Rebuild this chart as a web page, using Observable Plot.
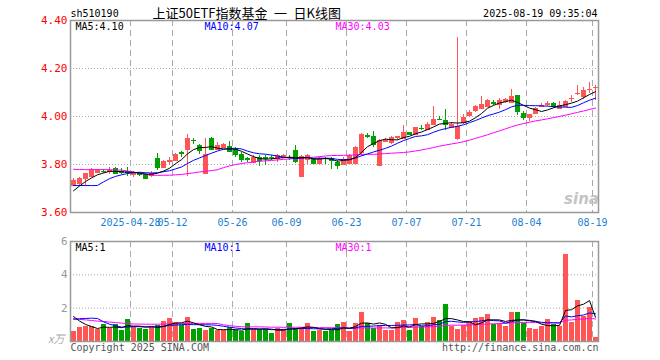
<!DOCTYPE html>
<html><head><meta charset="utf-8">
<script src="https://cdn.jsdelivr.net/npm/d3@7"></script>
<script src="https://cdn.jsdelivr.net/npm/@observablehq/plot@0.6"></script>
<style>
body{margin:0;background:#fff;}
#chart{width:660px;height:360px;position:relative;overflow:hidden;background:#fff}
#chart svg{display:block}
</style></head><body><div id="chart"></div>
<script>
// ---------- data ----------
const code = "sh510190";
const titleText = "上证50ETF指数基金\u2002一\u2002日K线图";
const stamp = "2025-08-19 09:35:04";

const dates = [
"04-14","04-15","04-16","04-17","04-18","04-21","04-22","04-23","04-24","04-25","04-28","04-29","04-30",
"05-06","05-07","05-08","05-09","05-12","05-13","05-14","05-15","05-16","05-19","05-20","05-21","05-22","05-23","05-26","05-27","05-28","05-29","05-30",
"06-03","06-04","06-05","06-06","06-09","06-10","06-11","06-12","06-13","06-16","06-17","06-18","06-19","06-20","06-23","06-24","06-25","06-26","06-27","06-30",
"07-01","07-02","07-03","07-04","07-07","07-08","07-09","07-10","07-11","07-14","07-15","07-16","07-17","07-18","07-21","07-22","07-23","07-24","07-25","07-28","07-29","07-30","07-31",
"08-01","08-04","08-05","08-06","08-07","08-08","08-11","08-12","08-13","08-14","08-15","08-18","08-19"];

const open = [
3.714,3.721,3.740,3.751,3.767,3.772,3.772,3.783,3.772,3.769,
3.757,3.764,3.757,3.754,3.825,3.788,3.813,3.815,3.849,3.861,
3.901,3.881,3.764,3.910,3.863,3.871,3.874,3.864,3.840,3.823,
3.810,3.829,3.829,3.830,3.825,3.829,3.830,3.857,3.750,3.822,
3.819,3.804,3.826,3.826,3.808,3.801,3.804,3.804,3.850,3.920,
3.918,3.797,3.896,3.890,3.912,3.910,3.932,3.926,3.952,3.947,
3.965,3.989,3.985,3.955,3.908,3.975,4.003,4.024,4.035,4.040,
4.059,4.049,4.062,4.058,4.086,4.013,3.996,4.013,4.042,4.051,
4.054,4.035,4.040,4.073,4.094,4.082,4.112,4.119];

const close = [
3.732,3.740,3.763,3.776,3.775,3.769,3.775,3.763,3.767,3.765,
3.767,3.757,3.743,3.764,3.788,3.811,3.815,3.840,3.846,3.910,
3.899,3.857,3.843,3.863,3.878,3.883,3.854,3.840,3.821,3.820,
3.829,3.815,3.826,3.828,3.836,3.836,3.828,3.812,3.832,3.839,
3.803,3.826,3.824,3.818,3.797,3.822,3.837,3.871,3.924,3.918,
3.885,3.899,3.902,3.912,3.915,3.933,3.926,3.954,3.949,3.966,
3.987,3.986,3.968,3.965,3.957,3.996,4.017,4.040,4.051,4.068,
4.056,4.065,4.069,4.082,4.021,3.996,4.007,4.035,4.045,4.054,
4.040,4.046,4.062,4.076,4.096,4.110,4.114,4.121];

const high = [
3.740,3.746,3.763,3.782,3.779,3.781,3.788,3.788,3.783,3.788,
3.771,3.767,3.763,3.769,3.847,3.815,3.829,3.846,3.853,3.926,
3.910,3.885,3.910,3.913,3.893,3.886,3.894,3.871,3.850,3.829,
3.836,3.836,3.836,3.839,3.843,3.843,3.839,3.878,3.836,3.843,
3.826,3.829,3.829,3.829,3.815,3.829,3.843,3.874,3.930,3.929,
3.939,3.906,3.908,3.918,3.918,3.964,3.932,3.956,3.964,3.974,
4.040,3.999,4.029,3.975,4.329,4.010,4.024,4.044,4.082,4.072,
4.068,4.076,4.075,4.114,4.086,4.021,4.010,4.038,4.054,4.061,
4.058,4.063,4.065,4.086,4.128,4.121,4.142,4.128];

const low = [
3.707,3.710,3.711,3.746,3.763,3.763,3.760,3.757,3.757,3.751,
3.746,3.751,3.738,3.746,3.774,3.785,3.797,3.812,3.829,3.750,
3.882,3.843,3.757,3.860,3.857,3.867,3.850,3.829,3.807,3.808,
3.806,3.792,3.797,3.815,3.808,3.826,3.815,3.804,3.746,3.801,
3.799,3.801,3.799,3.781,3.781,3.799,3.801,3.801,3.835,3.910,
3.871,3.796,3.890,3.885,3.899,3.906,3.919,3.923,3.940,3.943,
3.961,3.982,3.940,3.950,3.901,3.968,3.996,4.017,4.031,4.038,
4.044,4.031,4.054,4.054,4.003,3.982,3.979,4.007,4.038,4.040,
4.035,4.031,4.037,4.060,4.086,4.072,4.096,4.068];

// volume in 万手
const volume = [
0.60,0.84,0.88,0.88,0.70,1.00,0.78,1.00,0.66,1.30,
0.88,0.78,0.72,0.84,0.96,1.20,1.36,1.14,0.96,1.42,
0.72,0.78,0.66,0.78,0.66,0.66,0.82,0.66,0.60,1.06,
0.72,0.72,0.72,0.48,0.76,0.72,1.06,0.78,0.76,1.06,
0.60,0.64,0.60,0.68,1.00,1.12,0.60,1.06,1.72,1.06,
0.78,0.94,0.66,0.66,1.14,1.24,0.66,1.36,0.88,1.12,
1.42,1.24,2.20,0.88,0.72,0.96,1.12,1.36,1.42,1.60,
1.02,1.06,0.92,1.72,1.72,1.06,0.80,0.74,0.88,1.30,
1.00,0.92,5.20,1.12,2.44,1.50,2.02,0.22];

// sessions before the visible window (feed the moving averages only)
const priorClose = [3.77,3.78,3.76,3.78,3.77,3.79,3.80,3.78,3.88,3.90,3.89,3.88,3.87,3.82,3.80,3.81,3.79,3.80,3.81,3.80,3.74,3.76,3.78,3.77,3.62,3.64,3.67,3.70,3.71];
const priorVolume = [1.9,1.7,2.0,1.8,1.6,1.9,1.85,1.75,1.92,1.8,0.9,0.95,0.85,1.0,0.9,0.95,0.88,0.92,0.9,0.93,0.6,0.7,0.7,0.9,3.0,2.2,1.9,1.5,1.3];

const priceTicks = [3.6, 3.8, 4.0, 4.2, 4.4];
const volTicks = [2, 4, 6];
const tickDates = ["04-28","05-12","05-26","06-09","06-23","07-07","07-21","08-04","08-19"];
const tickLabels = ["2025-04-28","05-12","05-26","06-09","06-23","07-07","07-21","08-04","08-19"];
const copyright = "Copyright 2025 SINA.COM";
const site = "http://finance.sina.com.cn";
const volUnit = "x万";

// ---------- derived ----------
function movingAvg(prior, series, n) {
  const all = prior.concat(series);
  return series.map((_, i) => {
    const end = prior.length + i;
    return d3.mean(all.slice(end - n + 1, end + 1));
  });
}
const ma5 = movingAvg(priorClose, close, 5);
const ma10 = movingAvg(priorClose, close, 10);
const ma30 = movingAvg(priorClose, close, 30);
const vma5 = movingAvg(priorVolume, volume, 5);
const vma10 = movingAvg(priorVolume, volume, 10);
const vma30 = movingAvg(priorVolume, volume, 30);

const RED = "#ff5555", GREEN = "#00a000";
const rows = close.map((c, i) => ({
  i, date: dates[i], open: open[i], close: c, high: high[i], low: low[i], vol: volume[i],
  ma5: ma5[i], ma10: ma10[i], ma30: ma30[i], vma5: vma5[i], vma10: vma10[i], vma30: vma30[i],
  color: c >= open[i] ? RED : GREEN
}));
const tickIdx = tickDates.map(d => dates.indexOf(d));
const N = dates.length;
const trunc2 = v => (Math.floor(v * 100 + 1e-9) / 100).toFixed(2);
const last = N - 1;

const mono = "'DejaVu Sans Mono', monospace";
const grid = "#aaaaaa";
const frameC = "#999999";

const body = (extra) => Object.assign({
  x1: d => d.i + 1/6, x2: d => d.i + 1, shapeRendering: "crispEdges"
}, extra);

const main = Plot.plot({
  width: 660, height: 232,
  marginLeft: 70, marginRight: 62, marginTop: 20, marginBottom: 20,
  style: {fontFamily: mono, fontSize: "10px", background: "#fff", overflow: "visible"},
  x: {domain: [0, N], axis: null},
  y: {domain: [3.6, 4.4], axis: null},
  color: {type: "identity"},
  marks: [
    Plot.ruleY(priceTicks.slice(1, -1), {stroke: grid, strokeDasharray: "1,2"}),
    Plot.ruleX(tickIdx, {stroke: grid, strokeDasharray: "6,4"}),
    Plot.text(["sina"], {frameAnchor: "bottom-right", dx: -17, dy: -13, textAnchor: "middle", lineAnchor: "middle",
      fontFamily: "'DejaVu Sans', sans-serif", fontStyle: "italic", fontWeight: "bold", fontSize: 15, fill: "#c4c4c4"}),
    Plot.ruleX(rows, {x: d => d.i + 0.5, y1: "low", y2: "high", stroke: "color", shapeRendering: "crispEdges"}),
    Plot.rect(rows, body({y1: "open", y2: "close", fill: "color"})),
    Plot.ruleY(rows, body({y: "open", stroke: "color"})),
    Plot.ruleY(rows, body({y: "close", stroke: "color"})),
    Plot.line(rows, {x: d => d.i + 0.5, y: "ma30", stroke: "#ff00ff", strokeWidth: 1}),
    Plot.line(rows, {x: d => d.i + 0.5, y: "ma10", stroke: "#0000ff", strokeWidth: 1}),
    Plot.line(rows, {x: d => d.i + 0.5, y: "ma5", stroke: "#000000", strokeWidth: 1}),
    Plot.frame({stroke: frameC, strokeWidth: 1.5}),
    Plot.text(priceTicks, {x: -0.5, y: d => d, text: d => d.toFixed(2), textAnchor: "end", fill: "#ff0000", fontSize: 11}),
    Plot.text(tickIdx, {x: d => d, y: 3.6, dy: 10, text: (d, j) => tickLabels[j], fill: "#1e7fd0", fontSize: 10}),
    Plot.text(["MA5:" + trunc2(ma5[last])], {frameAnchor: "top-left", dx: 5, dy: 6, textAnchor: "start", lineAnchor: "middle", fill: "#000"}),
    Plot.text(["MA10:" + trunc2(ma10[last])], {frameAnchor: "top-left", dx: 134, dy: 6, textAnchor: "start", lineAnchor: "middle", fill: "#0000ff"}),
    Plot.text(["MA30:" + trunc2(ma30[last])], {frameAnchor: "top-left", dx: 265, dy: 6, textAnchor: "start", lineAnchor: "middle", fill: "#ff00ff"}),
    Plot.text([code], {frameAnchor: "top-left", dx: 0, dy: -7, textAnchor: "start", lineAnchor: "middle", fill: "#000", fontSize: 10}),
    Plot.text([titleText], {frameAnchor: "top-left", dx: 82, dy: -7, textAnchor: "start", lineAnchor: "middle", fill: "#000",
      fontSize: 13, fontFamily: "'Noto Sans CJK SC', sans-serif"}),
    Plot.text([stamp], {frameAnchor: "top-right", dx: -1, dy: -7, textAnchor: "end", lineAnchor: "middle", fill: "#000", fontSize: 10})
  ]
});

const vol = Plot.plot({
  width: 660, height: 128,
  marginLeft: 70, marginRight: 62, marginTop: 9, marginBottom: 19,
  style: {fontFamily: mono, fontSize: "10px", background: "#fff", overflow: "visible"},
  x: {domain: [0, N], axis: null},
  y: {domain: [0, 6], axis: null},
  color: {type: "identity"},
  marks: [
    Plot.ruleY(volTicks.slice(0, -1), {stroke: grid, strokeDasharray: "1,2"}),
    Plot.ruleX(tickIdx, {stroke: grid, strokeDasharray: "6,4"}),
    Plot.rect(rows, body({y1: 0, y2: "vol", fill: "color"})),
    Plot.line(rows, {x: d => d.i + 0.5, y: "vma30", stroke: "#ff00ff", strokeWidth: 1}),
    Plot.line(rows, {x: d => d.i + 0.5, y: "vma10", stroke: "#0000ff", strokeWidth: 1}),
    Plot.line(rows, {x: d => d.i + 0.5, y: "vma5", stroke: "#000000", strokeWidth: 1}),
    Plot.frame({stroke: frameC, strokeWidth: 1.5}),
    Plot.text(volTicks, {x: -0.5, y: d => d, text: d => String(d), textAnchor: "end", fill: "#999", fontSize: 11}),
    Plot.text([volUnit], {frameAnchor: "bottom-left", dx: -6, dy: -2, textAnchor: "end", lineAnchor: "middle",
      fill: "#aaa", fontSize: 11, fontStyle: "italic", fontFamily: "'Noto Sans CJK SC', sans-serif"}),
    Plot.text(["MA5:" + Math.floor(vma5[last])], {frameAnchor: "top-left", dx: 5, dy: 6, textAnchor: "start", lineAnchor: "middle", fill: "#000"}),
    Plot.text(["MA10:" + Math.floor(vma10[last])], {frameAnchor: "top-left", dx: 134, dy: 6, textAnchor: "start", lineAnchor: "middle", fill: "#0000ff"}),
    Plot.text(["MA30:" + Math.floor(vma30[last])], {frameAnchor: "top-left", dx: 265, dy: 6, textAnchor: "start", lineAnchor: "middle", fill: "#ff00ff"}),
    Plot.text([copyright], {frameAnchor: "bottom-left", dx: 0, dy: 6, textAnchor: "start", lineAnchor: "middle", fill: "#555", fontSize: 10}),
    Plot.text([site], {frameAnchor: "bottom-right", dx: 0, dy: 6, textAnchor: "end", lineAnchor: "middle", fill: "#555", fontSize: 10})
  ]
});

const host = document.getElementById("chart");
host.appendChild(main);
host.appendChild(vol);
</script></body></html>
